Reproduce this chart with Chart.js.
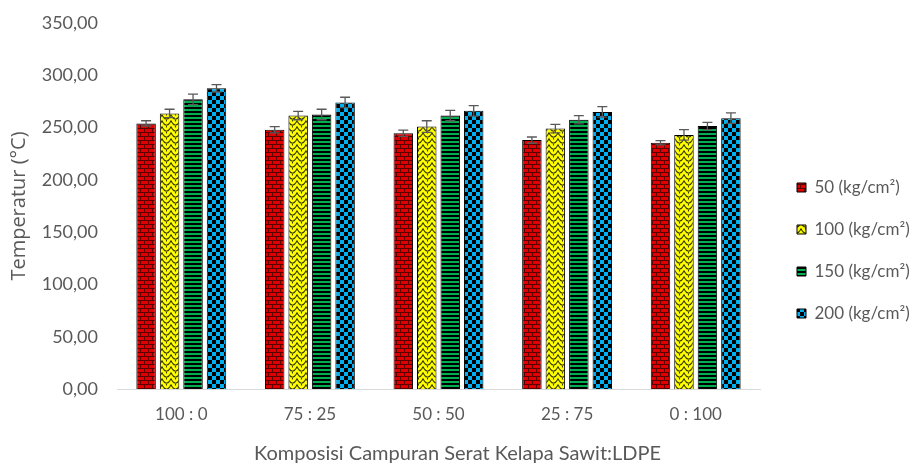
<!DOCTYPE html>
<html>
<head>
<meta charset="utf-8">
<script src="https://cdn.jsdelivr.net/npm/chart.js@4"></script>
<style>
  html, body { margin: 0; padding: 0; background: #fff; }
  #wrap { width: 924px; height: 466px; }
</style>
</head>
<body>
<div id="wrap"><canvas id="c" width="924" height="466"></canvas></div>
<script>
// Composition ratios (fibre : LDPE)
const categories = ['100 : 0', '75 : 25', '50 : 50', '25 : 75', '0 : 100'];
const seriesNames = ['50 (kg/cm²)', '100 (kg/cm²)', '150 (kg/cm²)', '200 (kg/cm²)'];

// Mean temperature (°C) per pressing pressure
const temp50  = [254.0, 248.0, 244.5, 238.0, 235.5];
const temp100 = [263.5, 261.5, 251.0, 249.0, 243.0];
const temp150 = [277.0, 262.5, 261.5, 257.5, 251.5];
const temp200 = [287.5, 274.0, 266.0, 265.0, 259.0];

// Standard deviation for the error bars
const err50  = [2.5, 3.0, 3.0, 3.0, 2.0];
const err100 = [4.0, 4.0, 5.5, 4.0, 5.0];
const err150 = [5.0, 5.0, 5.0, 4.0, 3.5];
const err200 = [3.5, 5.0, 5.0, 5.0, 5.0];

const yTicks = [0, 50, 100, 150, 200, 250, 300, 350];

function makeTile(w, h, draw) {
  const cv = document.createElement('canvas');
  cv.width = w; cv.height = h;
  const g = cv.getContext('2d');
  draw(g, w, h);
  return g.createPattern(cv, 'repeat');
}

// Red brick
const brick = makeTile(8, 8, (g) => {
  g.fillStyle = '#e00000'; g.fillRect(0, 0, 8, 8);
  g.fillStyle = '#5a0000';
  g.fillRect(0, 0, 8, 1);
  g.fillRect(0, 4, 8, 1);
  g.fillRect(0, 0, 1, 4);
  g.fillRect(4, 4, 1, 4);
});

// Yellow braid
const weave = makeTile(9, 6, (g) => {
  g.fillStyle = '#ffff00'; g.fillRect(0, 0, 9, 6);
  g.strokeStyle = '#3a3a00'; g.lineWidth = 1.1;
  g.beginPath();
  g.moveTo(0, 0.5); g.quadraticCurveTo(1.5, 4.5, 4.5, 5.2); g.quadraticCurveTo(7.5, 4.5, 9, 0.5);
  g.moveTo(-4.5, 5.2); g.quadraticCurveTo(-1.5, 4.5, 0, 0.5);
  g.moveTo(4.5, -0.8); g.lineTo(4.5, 1.5);
  g.stroke();
});

// Green horizontal stripes
const stripes = makeTile(4, 4, (g) => {
  g.fillStyle = '#000000'; g.fillRect(0, 0, 4, 4);
  g.fillStyle = '#00b050'; g.fillRect(0, 1, 4, 2);
});

// Blue checkerboard
const checker = makeTile(8, 8, (g) => {
  g.fillStyle = '#00b0f0'; g.fillRect(0, 0, 8, 8);
  g.fillStyle = '#000000';
  g.fillRect(0, 0, 4, 4);
  g.fillRect(4, 4, 4, 4);
});

const values = [temp50, temp100, temp150, temp200];
const errors = [err50, err100, err150, err200];
const fills = [brick, weave, stripes, checker];

const datasets = seriesNames.map((name, i) => ({
  label: name,
  data: values[i],
  errors: errors[i],
  backgroundColor: fills[i],
  borderColor: '#000000',
  borderWidth: 1,
  categoryPercentage: 0.73,
  barPercentage: 0.83
}));

// Error bars drawn through the value scale
const errorBars = {
  id: 'errorBars',
  afterDatasetsDraw(chart) {
    const ctx = chart.ctx;
    const y = chart.scales.y;
    ctx.save();
    ctx.strokeStyle = '#595959';
    ctx.lineWidth = 1.3;
    chart.data.datasets.forEach((ds, di) => {
      const meta = chart.getDatasetMeta(di);
      meta.data.forEach((bar, k) => {
        const v = ds.data[k], e = ds.errors[k];
        const yt = y.getPixelForValue(v + e);
        const yb = y.getPixelForValue(v - e);
        const x = bar.x;
        ctx.beginPath();
        ctx.moveTo(x, yt); ctx.lineTo(x, yb);
        ctx.moveTo(x - 5, yt); ctx.lineTo(x + 5, yt);
        ctx.moveTo(x - 5, yb); ctx.lineTo(x + 5, yb);
        ctx.stroke();
      });
    });
    ctx.restore();
  }
};

// Fixed-width legend column on the right, nudged inward;
// the category-axis title sits a little right of the plot centre
const LEGEND_WIDTH = 164;
const LEGEND_SHIFT_X = 12;
const LEGEND_SHIFT_Y = 6;
const X_TITLE_SHIFT = 19;
const layoutTweaks = {
  id: 'layoutTweaks',
  beforeLayout(chart) {
    const legend = chart.legend;
    if (legend && !legend._fixedWidth) {
      const fit = legend.fit.bind(legend);
      legend.fit = function () { fit(); this.width = LEGEND_WIDTH; };
      legend._fixedWidth = true;
    }
  },
  afterLayout(chart) {
    const legend = chart.legend;
    legend.left += LEGEND_SHIFT_X; legend.right += LEGEND_SHIFT_X;
    legend.top += LEGEND_SHIFT_Y; legend.bottom += LEGEND_SHIFT_Y;
    const xs = chart.scales.x;
    if (xs && !xs._shiftedTitle) {
      const drawTitle = xs.drawTitle.bind(xs);
      xs.drawTitle = function () {
        const ctx = this.ctx;
        ctx.save();
        ctx.translate(X_TITLE_SHIFT, 0);
        drawTitle();
        ctx.restore();
      };
      xs._shiftedTitle = true;
    }
  }
};

const fontFamily = 'Lato, "Open Sans", sans-serif';
const grey = '#595959';

new Chart(document.getElementById('c'), {
  type: 'bar',
  data: { labels: categories, datasets },
  plugins: [errorBars, layoutTweaks],
  options: {
    responsive: false,
    animation: false,
    layout: { padding: { top: 23, right: 0, left: 0, bottom: 0 } },
    plugins: {
      tooltip: { enabled: false },
      legend: {
        position: 'right',
        labels: {
          color: grey,
          font: { family: fontFamily, size: 17 },
          boxWidth: 9,
          boxHeight: 9,
          padding: 25
        }
      }
    },
    scales: {
      x: {
        afterFit(scale) { scale.height = 77; },
        grid: { display: false, drawTicks: false },
        border: { color: '#d9d9d9', width: 1 },
        ticks: { color: grey, font: { family: fontFamily, size: 17 }, padding: 15 },
        title: {
          display: true,
          text: 'Komposisi Campuran Serat Kelapa Sawit:LDPE',
          color: grey,
          font: { family: fontFamily, size: 20 },
          padding: { top: 0, bottom: 0 }
        }
      },
      y: {
        min: 0, max: 350,
        afterFit(scale) {
          scale.width = 117;
          scale.paddingTop = 0;
          scale.paddingBottom = 0;
        },
        afterBuildTicks(scale) { scale.ticks = yTicks.map(v => ({ value: v })); },
        grid: { display: false, drawTicks: false },
        border: { display: false },
        ticks: {
          color: grey,
          font: { family: fontFamily, size: 18 },
          padding: 19,
          callback: (v) => v.toFixed(2).replace('.', ',')
        },
        title: {
          display: true,
          text: 'Temperatur (°C)',
          color: grey,
          font: { family: '"Open Sans", Lato, sans-serif', size: 20 },
          padding: { top: 7, bottom: 0 }
        }
      }
    }
  }
});
</script>
</body>
</html>
